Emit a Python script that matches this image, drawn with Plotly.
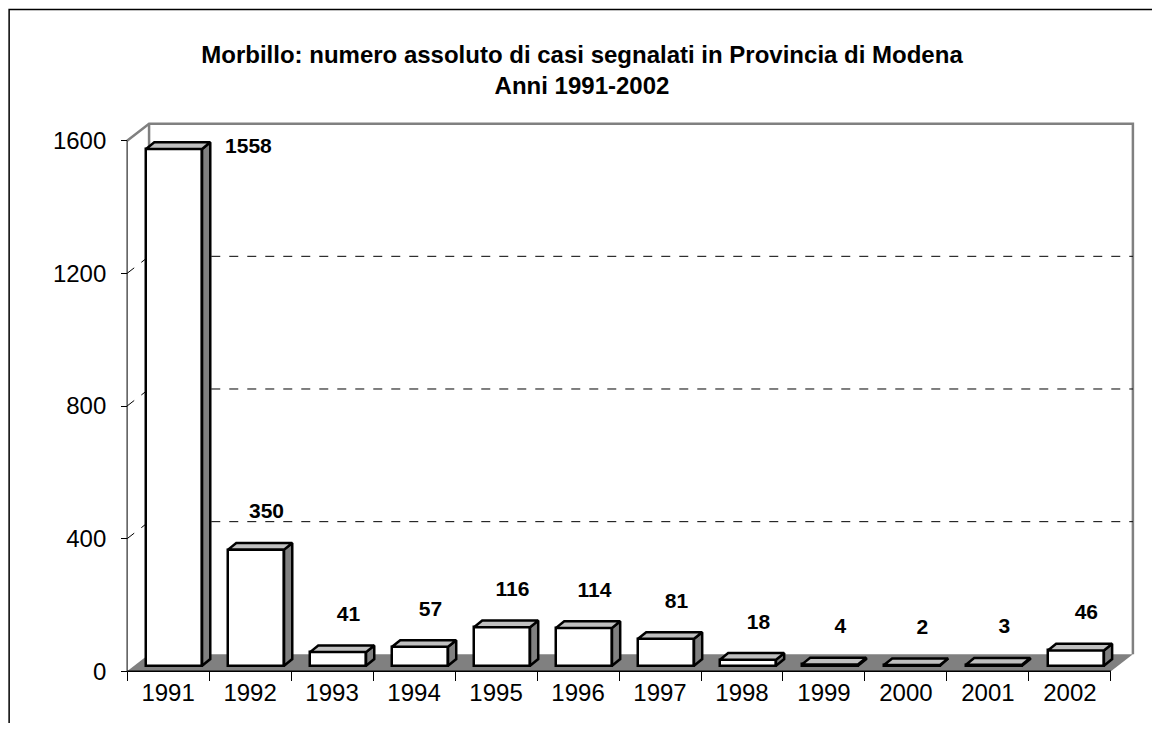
import plotly.graph_objects as go

# data
anni = ["1991", "1992", "1993", "1994", "1995", "1996",
        "1997", "1998", "1999", "2000", "2001", "2002"]
casi = [1558, 350, 41, 57, 116, 114, 81, 18, 4, 2, 3, 46]
y_ticks = [0, 400, 800, 1200, 1600]

n = len(anni)
DX, DY = 0.268, 51.3          # depth of the whole 3d box (x units, value units)
BASE = 17                     # bar front face sits a bit behind the front plane
BW = 0.683                    # bar width
BDX, BDY = 0.10, 20           # depth of a single bar
YMAX = 1600
PADX, PADY = 0.05, 8
PXX, PXY = 82.0, 0.33125      # pixels per x unit / per value unit

W, H = 1144, 715              # page body has an 8px margin
FONT = "Liberation Sans, Arial, sans-serif"
GRAY = "#808080"

fig = go.Figure()

xc = [i + 0.573 for i in range(n)]

# front faces
fig.add_trace(go.Bar(
    x=xc, y=casi, base=BASE, width=BW,
    marker=dict(color="white", line=dict(color="black", width=2.5)),
    hoverinfo="skip"))

# top and side faces
for x, v in zip(xc, casi):
    x0, x1 = x - BW / 2, x + BW / 2
    top = BASE + v
    fig.add_trace(go.Scatter(
        x=[x1, x1 + BDX, x1 + BDX, x1, x1],
        y=[BASE, BASE + BDY, top + BDY, top, BASE],
        fill="toself", fillcolor=GRAY, mode="lines",
        line=dict(color="black", width=2.5), hoverinfo="skip"))
    fig.add_trace(go.Scatter(
        x=[x0, x1, x1 + BDX, x0 + BDX, x0],
        y=[top, top, top + BDY, top + BDY, top],
        fill="toself", fillcolor="#c0c0c0", mode="lines",
        line=dict(color="black", width=2.5), hoverinfo="skip"))

# value labels
lx, ly = [], []
for i, v in enumerate(casi):
    y = BASE + v + BDY + 90
    x = i + 0.7
    if y > YMAX:
        y = 1580
        x = i + 1.48
    lx.append(x)
    ly.append(y)
fig.add_trace(go.Scatter(
    x=lx, y=ly, text=["<b>%d</b>" % v for v in casi], mode="text",
    textfont=dict(family=FONT, size=21, color="black"),
    cliponaxis=False, hoverinfo="skip"))

shapes = []
# floor
shapes.append(dict(
    type="path", xref="x", yref="y", layer="below",
    path=f"M 0,0 L {n},0 L {n + DX},{DY} L {DX},{DY} Z",
    fillcolor=GRAY, line=dict(width=0)))
# back wall outline
shapes.append(dict(
    type="path", xref="x", yref="y", layer="below",
    path=(f"M 0,{YMAX} L {DX},{YMAX + DY} L {n + DX},{YMAX + DY} "
          f"L {n + DX},{DY}"),
    line=dict(color=GRAY, width=2.5)))
shapes.append(dict(
    type="line", xref="x", yref="y", layer="below",
    x0=DX, x1=DX, y0=DY, y1=YMAX + DY,
    line=dict(color=GRAY, width=2.5)))
# dashed gridlines
for v in y_ticks[1:-1]:
    shapes.append(dict(
        type="path", xref="x", yref="y", layer="below",
        path=f"M 0,{v} L {DX},{v + DY} L {n + DX},{v + DY}",
        line=dict(color="black", width=1, dash="dash")))
# front axis lines
shapes.append(dict(type="line", xref="x", yref="y", x0=0, x1=0, y0=0, y1=YMAX,
                   line=dict(color="black", width=1)))
shapes.append(dict(type="line", xref="x", yref="y", x0=0, x1=n, y0=0, y1=0,
                   line=dict(color="black", width=1.5)))

xr = [-PADX, n + DX + PADX]
yr = [-PADY, YMAX + DY + PADY]

# plot area in figure pixels
ml = 119 - PADX * PXX
mr = W - 1125 - PADX * PXX
mt = 116 - PADY * PXY
mb = H - 663 - PADY * PXY
pw = W - ml - mr
ph = H - mt - mb

# chart border (left/top edges visible, the rest runs off the page)
shapes.append(dict(type="rect", xref="paper", yref="paper",
                   x0=(1 - ml) / pw, x1=(W + 20 - ml) / pw,
                   y0=-(mb + 20) / ph, y1=(H - mb - 2) / ph,
                   line=dict(color="black", width=1.5)))

fig.update_layout(
    width=W, height=H,
    margin=dict(l=ml, r=mr, t=mt, b=mb, pad=0),
    paper_bgcolor="white", plot_bgcolor="white",
    showlegend=False, bargap=0,
    shapes=shapes,
    title=dict(
        text=("<b>Morbillo: numero assoluto di casi segnalati in Provincia di Modena"
              "<br>Anni 1991-2002</b>"),
        x=(582 - 8) / W, xanchor="center", y=1 - 55 / H, yanchor="middle",
        font=dict(family=FONT, size=24, color="black")),
    xaxis=dict(
        range=xr, showgrid=False, zeroline=False, showline=False,
        tickmode="array", tickvals=[i + 0.5 for i in range(n)], ticktext=anni,
        ticks="", ticklabelstandoff=5,
        tickfont=dict(family=FONT, size=24, color="black"),
        minor=dict(tickmode="array", tickvals=list(range(n + 1)),
                   ticks="outside", ticklen=9, tickcolor="black", tickwidth=1),
        anchor="free", position=PADY / (yr[1] - yr[0])),
    yaxis=dict(
        range=yr, showgrid=False, zeroline=False, showline=False,
        tickmode="array", tickvals=y_ticks,
        ticks="outside", ticklen=6, tickcolor="black", tickwidth=1,
        ticklabelstandoff=10,
        tickfont=dict(family=FONT, size=24, color="black"),
        anchor="free", position=PADX / (xr[1] - xr[0])),
)

fig.write_html("out.html")
